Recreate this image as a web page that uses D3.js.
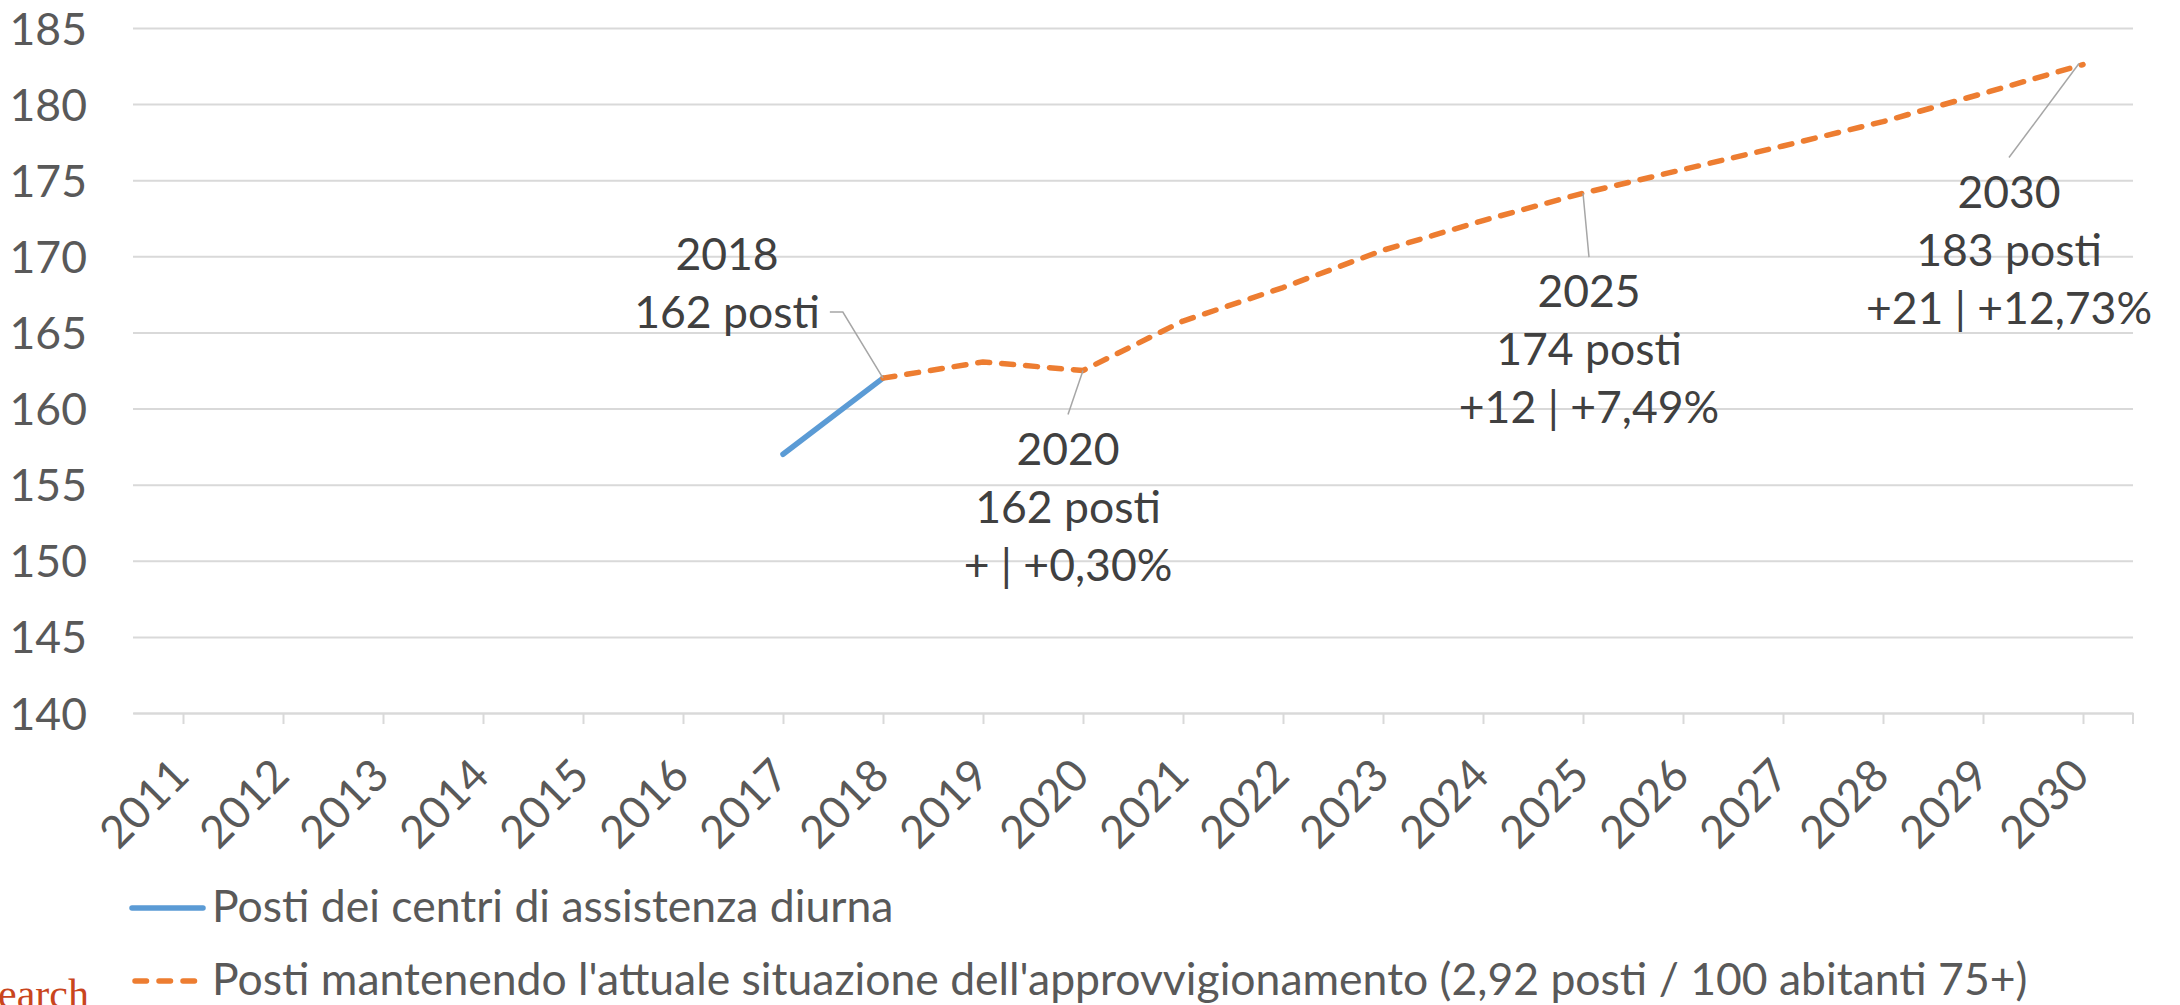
<!DOCTYPE html>
<html>
<head>
<meta charset="utf-8">
<script src="https://cdn.jsdelivr.net/npm/d3@7"></script>
<style>
body { margin: 0; background: #fff; }
svg text { font-family: Lato, "Open Sans", sans-serif; }
</style>
</head>
<body>
<svg class="chart" width="2180" height="1005"></svg>
<script>
// data
var years = ['2011','2012','2013','2014','2015','2016','2017','2018','2019','2020',
             '2021','2022','2023','2024','2025','2026','2027','2028','2029','2030'];
var yTicks = [140, 145, 150, 155, 160, 165, 170, 175, 180, 185];

var actualYears = ['2017', '2018'];
var actualValues = [157, 162];

var projYears = ['2018','2019','2020','2021','2022','2023','2024','2025','2026','2027','2028','2029','2030'];
var projValues = [162, 163.06, 162.5, 165.75, 167.95, 170.4, 172.35, 174.15, 175.7, 177.25, 178.85, 180.7, 182.6];

var seriesNames = ['Posti dei centri di assistenza diurna',
                   "Posti mantenendo l'attuale situazione dell'approvvigionamento (2,92 posti / 100 abitanti 75+)"];

var labelYears = ['2018', '2020', '2025', '2030'];
var labelLines = [
  ['2018', '162 posti'],
  ['2020', '162 posti', '+ | +0,30%'],
  ['2025', '174 posti', '+12 | +7,49%'],
  ['2030', '183 posti', '+21 | +12,73%']
];

// layout
var blue = '#5b9bd5', orange = '#ed7d31', grid = '#d9d9d9';
var fontSize = 44.5;
var svg = d3.select('.chart');
var plotLeft = 133, plotRight = 2133, plotTop = 28, plotBottom = 713;

var x = d3.scalePoint().domain(years).range([plotLeft, plotRight]).padding(0.5);
var y = d3.scaleLinear().domain([140, 185]).range([plotBottom, plotTop]);

// y axis + gridlines
var gy = svg.append('g')
  .attr('transform', 'translate(' + [plotLeft, 0] + ')')
  .call(d3.axisLeft(y).tickValues(yTicks).tickSize(-(plotRight - plotLeft)).tickPadding(46));
gy.select('.domain').remove();
gy.selectAll('line').attr('stroke', grid).attr('stroke-width', 2);
gy.selectAll('text').attr('fill', '#595959').style('font-size', fontSize + 'px').attr('dy', '0.36em');

// x axis
var gx = svg.append('g')
  .attr('transform', 'translate(' + [0, plotBottom] + ')')
  .call(d3.axisBottom(x).tickSize(11).tickSizeOuter(0));
gx.select('.domain').attr('stroke', grid).attr('stroke-width', 2);
gx.selectAll('line').attr('stroke', grid).attr('stroke-width', 2);
gx.selectAll('text')
  .attr('fill', '#595959')
  .style('font-size', fontSize + 'px')
  .style('text-anchor', 'end')
  .attr('x', 0).attr('y', 0).attr('dy', 0)
  .attr('transform', 'translate(8,65) rotate(-45)');
gx.append('line')
  .attr('x1', plotRight).attr('x2', plotRight)
  .attr('y1', 0).attr('y2', 11)
  .attr('stroke', grid).attr('stroke-width', 2);

// lines
var line = d3.line()
  .x(function(d) { return x(d[0]); })
  .y(function(d) { return y(d[1]); });

svg.append('path')
  .datum(d3.zip(actualYears, actualValues))
  .attr('d', line)
  .attr('fill', 'none')
  .attr('stroke', blue)
  .attr('stroke-width', 5.5)
  .attr('stroke-linecap', 'round')
  .attr('stroke-linejoin', 'round');

svg.append('path')
  .datum(d3.zip(projYears, projValues))
  .attr('d', line)
  .attr('fill', 'none')
  .attr('stroke', orange)
  .attr('stroke-width', 5.5)
  .attr('stroke-dasharray', '12,12')
  .attr('stroke-linecap', 'round')
  .attr('stroke-linejoin', 'round');

// data labels with leader lines
var labelOffsets = [[-156, -108], [-15, 94], [6, 114], [-74, 143]];
var lineGap = 58;

labelYears.forEach(function(yr, i) {
  var idx = projYears.indexOf(yr);
  var px = x(yr), py = y(projValues[idx]);
  var cx = px + labelOffsets[i][0], by = py + labelOffsets[i][1];

  var t = svg.append('text')
    .attr('text-anchor', 'middle')
    .attr('fill', '#404040')
    .style('font-size', fontSize + 'px');
  labelLines[i].forEach(function(s, j) {
    t.append('tspan').attr('x', cx).attr('y', by + j * lineGap).text(s);
  });

  var pts;
  if (i == 0) {
    // label sits to the upper left: hook from end of 2nd line
    var w = t.selectAll('tspan').nodes()[1].getComputedTextLength();
    var ex = cx + w / 2 + 10, ey = by + lineGap - 16;
    pts = [[px, py], [ex + 13, ey], [ex, ey]];
  } else {
    pts = [[px - (i == 3 ? 4 : 0), py - (i == 3 ? 1 : 0)], [cx, by - 50]];
  }
  svg.append('path')
    .attr('d', d3.line()(pts))
    .attr('fill', 'none')
    .attr('stroke', '#a6a6a6')
    .attr('stroke-width', 1.5);
});

// legend
var legend = svg.append('g').attr('transform', 'translate(' + [132, 0] + ')');
legend.append('line')
  .attr('x1', 0).attr('x2', 71).attr('y1', 908).attr('y2', 908)
  .attr('stroke', blue).attr('stroke-width', 5.5).attr('stroke-linecap', 'round');
legend.append('line')
  .attr('x1', 3).attr('x2', 65).attr('y1', 981).attr('y2', 981)
  .attr('stroke', orange).attr('stroke-width', 5.5)
  .attr('stroke-dasharray', '11.5,12.5').attr('stroke-linecap', 'round');
legend.selectAll('text.leg')
  .data(seriesNames)
  .enter().append('text')
  .attr('class', 'leg')
  .attr('x', 80)
  .attr('y', function(d, i) { return 922 + i * 73; })
  .attr('fill', '#595959')
  .style('font-size', fontSize + 'px')
  .text(function(d) { return d; });

// cut-off source mark bottom left
svg.append('text')
  .attr('x', -2).attr('y', 1008)
  .attr('fill', '#c9451d')
  .style('font-family', '"Liberation Serif", serif')
  .style('font-size', '42px')
  .text('earch');
</script>
</body>
</html>
